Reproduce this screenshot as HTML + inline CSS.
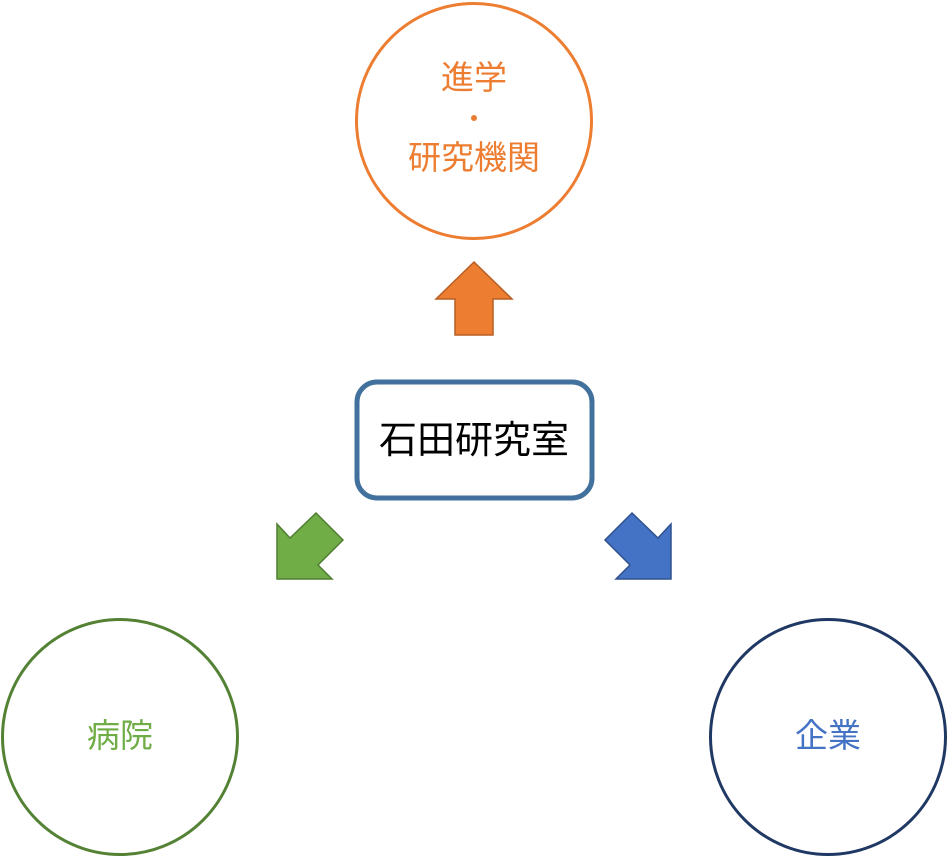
<!DOCTYPE html>
<html><head><meta charset="utf-8"><style>
html,body{margin:0;padding:0;background:#fff;}
svg{display:block;}
text{font-family:"Liberation Sans","Noto Sans CJK JP",sans-serif;}
</style></head><body>
<svg width="948" height="858" viewBox="0 0 948 858" xmlns="http://www.w3.org/2000/svg">
<rect width="948" height="858" fill="#fff"/>
<circle cx="474" cy="121" r="117.5" fill="none" stroke="#ED7D31" stroke-width="3"/>
<text x="474" y="89" font-size="33" fill="#ED7D31" text-anchor="middle">進学</text>
<circle cx="474" cy="118" r="3" fill="#ED7D31"/>
<text x="474" y="169" font-size="33" fill="#ED7D31" text-anchor="middle">研究機関</text>
<polygon points="474,262 512,299 493,299 493,335 455,335 455,299 436,299" fill="#ED7D31" stroke="#B65E22" stroke-width="1.5"/>
<rect x="357" y="382" width="235" height="116" rx="20" fill="#fff" stroke="#41719C" stroke-width="5"/>
<text x="474" y="453" font-size="38" fill="#000" text-anchor="middle">石田研究室</text>
<polygon points="277,524 290,538 316,513 343,540 318,565 332,579 277,579" fill="#70AD47" stroke="#507E32" stroke-width="1.5"/>
<polygon points="671,524 658,538 632,513 605,540 630,565 616,579 671,579" fill="#4472C4" stroke="#2F528F" stroke-width="1.5"/>
<circle cx="120" cy="737" r="117.5" fill="none" stroke="#548235" stroke-width="3"/>
<text x="120" y="747" font-size="33" fill="#70AD47" text-anchor="middle">病院</text>
<circle cx="828" cy="737" r="117.5" fill="none" stroke="#1F3864" stroke-width="3"/>
<text x="828" y="747" font-size="33" fill="#4472C4" text-anchor="middle">企業</text>
</svg>
</body></html>
